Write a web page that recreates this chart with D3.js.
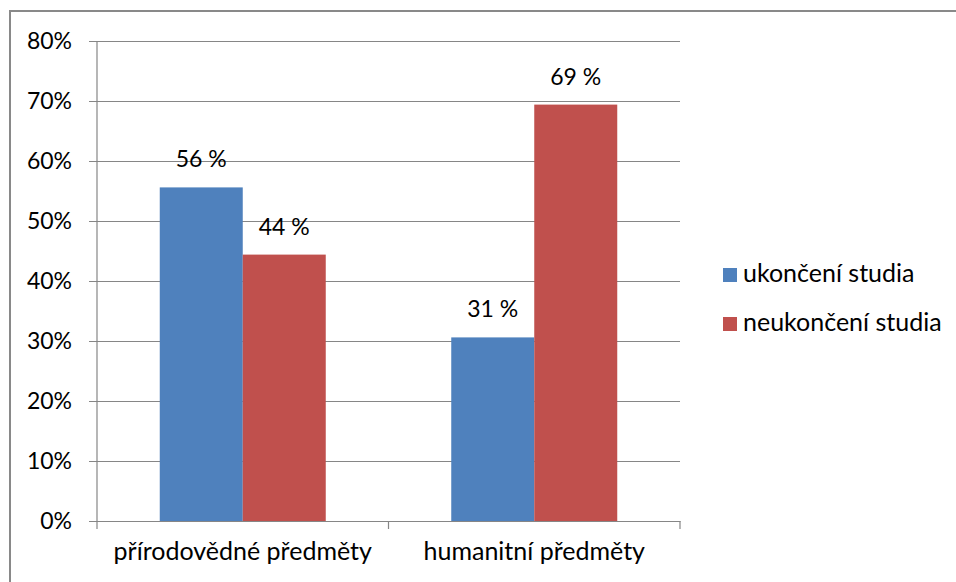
<!DOCTYPE html>
<html>
<head>
<meta charset="utf-8">
<script src="https://cdn.jsdelivr.net/npm/d3@7"></script>
<style>
  html, body { margin: 0; padding: 0; background: #fff; }
  svg { display: block; font-family: Lato, "Open Sans", sans-serif; }
</style>
</head>
<body>
<svg id="chart" width="956" height="582"></svg>
<script>
// Share of students by subject group and study outcome
const categories = ["přírodovědné předměty", "humanitní předměty"];
const seriesNames = ["ukončení studia", "neukončení studia"];
const completed = [55.6, 30.6];
const notCompleted = [44.4, 69.4];
const yTicks = [0, 10, 20, 30, 40, 50, 60, 70, 80];
const colors = ["#4f81bd", "#c0504d"];

const svg = d3.select("#chart");
const plot = { left: 97, right: 680, top: 41, bottom: 521 };
const numSize = 23;
const textSize = 25;

// Outer frame (top and left edges)
svg.append("path")
  .attr("d", "M10,582 V11 H956")
  .attr("fill", "none")
  .attr("stroke", "#898989")
  .attr("stroke-width", 2);

const x0 = d3.scaleBand().domain(categories).range([plot.left, plot.right]).paddingInner(0).paddingOuter(0);
const x1 = d3.scaleBand().domain(seriesNames).range([0, x0.bandwidth()]).paddingOuter(0.756).paddingInner(0);
const y = d3.scaleLinear().domain([0, 80]).range([plot.bottom, plot.top]);

// Horizontal gridlines with short left ticks
const yAxis = d3.axisLeft(y).tickValues(yTicks).tickFormat(d => d + "%")
  .tickSize(-(plot.right - plot.left)).tickPadding(25);
const gy = svg.append("g").attr("transform", `translate(${plot.left},0)`).call(yAxis);
gy.select(".domain").remove();
gy.selectAll(".tick line").attr("stroke", "#868686").attr("stroke-width", 1.2)
  .attr("x1", -8);
gy.selectAll(".tick text").attr("fill", "#000").attr("font-size", numSize)
  .attr("font-family", "Lato, sans-serif");

// Vertical axis line
svg.append("line")
  .attr("x1", plot.left).attr("x2", plot.left)
  .attr("y1", plot.top).attr("y2", plot.bottom)
  .attr("stroke", "#868686").attr("stroke-width", 1.2);

// Bars
const rows = categories.map((c, i) => ({ cat: c, vals: [completed[i], notCompleted[i]] }));
const groups = svg.append("g").selectAll("g").data(rows).join("g")
  .attr("transform", d => `translate(${x0(d.cat)},0)`);
groups.selectAll("rect")
  .data(d => d.vals.map((v, j) => ({ v, s: seriesNames[j], j })))
  .join("rect")
  .attr("x", d => x1(d.s))
  .attr("width", x1.bandwidth())
  .attr("y", d => y(d.v))
  .attr("height", d => y(0) - y(d.v))
  .attr("fill", d => colors[d.j]);

// Value labels
groups.selectAll("text.val")
  .data(d => d.vals.map((v, j) => ({ v, s: seriesNames[j], j })))
  .join("text")
  .attr("class", "val")
  .attr("x", d => x1(d.s) + x1.bandwidth() / 2)
  .attr("y", d => y(d.v) - 20)
  .attr("text-anchor", "middle")
  .attr("font-size", numSize)
  .attr("fill", "#000")
  .text(d => Math.round(d.v) + " %");

// Category axis
const xAxis = d3.axisBottom(x0).tickSize(0).tickPadding(21);
const gx = svg.append("g").attr("transform", `translate(0,${plot.bottom})`).call(xAxis);
gx.select(".domain").attr("stroke", "#868686").attr("stroke-width", 1.2);
gx.selectAll(".tick text").attr("fill", "#000").attr("font-size", textSize)
  .attr("font-family", "Lato, sans-serif");
// Category boundary ticks
const bounds = [plot.left, ...categories.map(c => x0(c) + x0.bandwidth())];
gx.selectAll("line.bound").data(bounds).join("line")
  .attr("class", "bound")
  .attr("x1", d => d).attr("x2", d => d)
  .attr("y1", 0).attr("y2", 8)
  .attr("stroke", "#868686").attr("stroke-width", 1.2);

// Legend
const legend = svg.append("g").attr("transform", "translate(723,268)");
const items = legend.selectAll("g").data(seriesNames).join("g")
  .attr("transform", (d, i) => `translate(0,${i * 49})`);
items.append("rect").attr("width", 14).attr("height", 14)
  .attr("fill", (d, i) => colors[i]);
items.append("text").attr("x", 20).attr("y", 14)
  .attr("font-size", textSize).attr("fill", "#000").text(d => d);
</script>
</body>
</html>
